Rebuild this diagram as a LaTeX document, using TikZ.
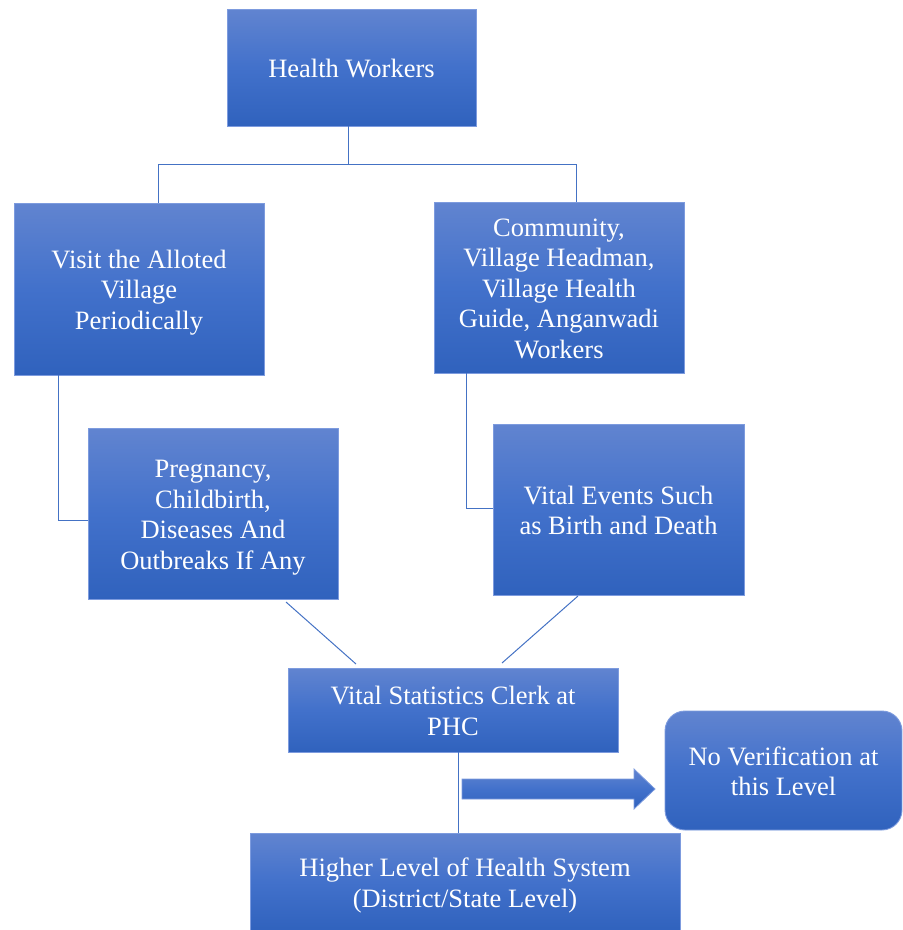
\documentclass[tikz,border=0pt]{standalone}
\usepackage{fontspec}
\setmainfont{Liberation Serif}
\definecolor{btop}{RGB}{97,132,208}
\definecolor{bmid}{RGB}{66,113,203}
\definecolor{bbot}{RGB}{48,98,189}
\definecolor{bedge}{RGB}{125,155,222}
\definecolor{lnk}{RGB}{68,114,196}
\newcommand\mytop{\rule{0pt}{27pt}}
\newcommand\mybot{\rule[-7.5pt]{0pt}{0pt}}
\tikzset{
  box/.style={rectangle, draw=bedge, line width=0.9pt, top color=btop, bottom color=bbot, middle color=bmid,
    text=white, align=center, inner sep=0pt,
    font=\fontsize{26.5}{30.5}\selectfont},
  link/.style={draw=lnk, line width=1pt},
}
\begin{document}
\begin{tikzpicture}[x=1pt,y=-1pt]
\useasboundingbox (0,0) rectangle (903,930);
\node[box, minimum width=249pt, minimum height=117pt] (hw) at (351.5,67.5) {\mytop Health Workers\mybot};
\node[box, minimum width=250pt, minimum height=172pt] (vis) at (139,289) {\mytop Visit the Alloted\\Village\\Periodically\mybot};
\node[box, minimum width=250pt, minimum height=171pt] (com) at (559,287.5) {\mytop Community,\\Village Headman,\\Village Health\\Guide, Anganwadi\\Workers\mybot};
\node[box, minimum width=250pt, minimum height=171pt] (prg) at (213,513.5) {\mytop Pregnancy,\\Childbirth,\\Diseases And\\Outbreaks If Any\mybot};
\node[box, minimum width=251pt, minimum height=171pt] (vev) at (618.5,509.5) {\mytop Vital Events Such\\as Birth and Death\mybot};
\node[box, minimum width=330pt, minimum height=84pt] (clk) at (453,710) {\mytop Vital Statistics Clerk at\\PHC\mybot};
\node[box, minimum width=430pt, minimum height=98pt] (hls) at (465,882) {\mytop Higher Level of Health System\\(District/State Level)\mybot};
\node[box, rounded corners=20pt, minimum width=237pt, minimum height=119pt] (nov) at (783.5,770.5) {\mytop No Verification at\\this Level\mybot};
% block arrow
\shade[top color=btop, bottom color=bbot, middle color=bmid, draw=bedge, line width=0.8pt]
  (462,779) -- (634,779) -- (634,769) -- (655,789) -- (634,809) -- (634,799) -- (462,799) -- cycle;
% connectors
\coordinate (j0) at (348,164);
\coordinate (jl) at (158,164);
\coordinate (jr) at (576,164);
\draw[link] (hw.south -| j0) -- (j0);
\draw[link] (jl) -- (jr);
\draw[link] (jl) -- (vis.north -| jl);
\draw[link] (jr) -- (com.north -| jr);
\coordinate (bl) at (58,520);
\draw[link] (vis.south -| bl) -- (bl) -- (prg.west |- bl);
\coordinate (br) at (466,508);
\draw[link] (com.south -| br) -- (br) -- (vev.west |- br);
\coordinate (d1a) at (286,602);
\coordinate (d1b) at (356,664);
\coordinate (d2a) at (578,596);
\coordinate (d2b) at (502,663);
\draw[link] (d1a) -- (d1b);
\draw[link] (d2a) -- (d2b);
\coordinate (cv) at (458,752);
\draw[link] (cv) -- (hls.north -| cv);
\end{tikzpicture}
\end{document}
